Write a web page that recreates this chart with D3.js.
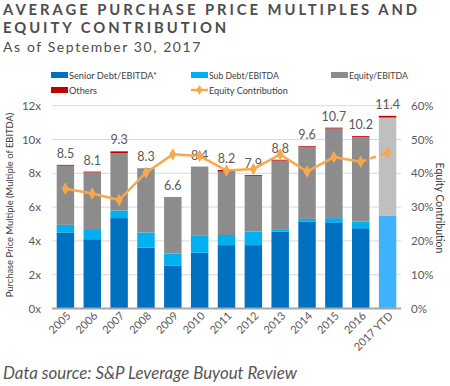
<!DOCTYPE html>
<html><head><meta charset="utf-8">
<script src="https://cdn.jsdelivr.net/npm/d3@7"></script>
<style>body{margin:0;background:#fff}svg{display:block}</style>
</head><body>
<svg id="c" width="450" height="386"></svg>
<script>
const categories = ["2005","2006","2007","2008","2009","2010","2011","2012","2013","2014","2015","2016","2017 YTD"];
const seniorDebt = [4.5,4.1,5.35,3.6,2.55,3.3,3.75,3.75,4.55,5.15,5.1,4.75,5.5];
const subDebt    = [0.45,0.6,0.45,0.9,0.7,1.0,0.6,0.8,0.1,0.15,0.25,0.4,0.0];
const equity     = [3.5,3.35,3.4,3.8,3.35,4.1,3.75,3.3,4.1,4.25,5.3,5.0,5.8];
const others     = [0.05,0.05,0.1,0.0,0.0,0.0,0.1,0.05,0.05,0.05,0.05,0.05,0.1];
const totalLabels = ["8.5","8.1","9.3","8.3","6.6","8.4","8.2","7.9","8.8","9.6","10.7","10.2","11.4"];
const equityContribution = [35.4,34.0,32.1,40.2,45.6,45.1,40.8,41.3,45.6,40.5,44.8,43.4,46.2];
const leftTicks = [0,2,4,6,8,10,12];
const rightTicks = [0,10,20,30,40,50,60];

const svg = d3.select("#c");
const ml = 52, mr = 401, plotTop = 105.7, bot = 308.5;
const x = d3.scaleBand().domain(categories).range([ml, mr]).paddingInner(0.35).paddingOuter(0.175);
const y = d3.scaleLinear().domain([0,12]).range([bot, plotTop]);
const y2 = d3.scaleLinear().domain([0,60]).range([bot, plotTop]);
const txt = "#595959";
const F = "Lato, 'Open Sans', sans-serif";

function fit(sel, w){
  const n = sel.node(); const len = n.getComputedTextLength();
  const fs = parseFloat(sel.attr("font-size"));
  if(len>0) sel.attr("font-size", fs*w/len);
  return sel;
}
function spread(sel, w){
  const n = sel.node(); const len = n.getComputedTextLength();
  const ls = parseFloat(sel.attr("letter-spacing")) || 0;
  const k = sel.text().length;
  sel.attr("letter-spacing", ls + (w - len)/k);
  return sel;
}

// Title
const t1 = spread(svg.append("text").attr("x",3).attr("y",14.5).attr("font-family",F).attr("font-weight","bold")
  .attr("font-size",14.8).attr("letter-spacing",2).attr("fill","#4d4d4d").text("AVERAGE PURCHASE PRICE MULTIPLES AND"), 417);
svg.append("text").attr("x",3).attr("y",33.3).attr("font-family",F).attr("font-weight","bold")
  .attr("font-size",14.8).attr("letter-spacing",t1.attr("letter-spacing")).attr("fill","#4d4d4d").text("EQUITY CONTRIBUTION");
spread(svg.append("text").attr("x",3).attr("y",51.7).attr("font-family",F)
  .attr("font-size",14).attr("letter-spacing",1).attr("fill","#4d4d4d").text("As of September 30, 2017"), 199);

// Gridlines
svg.append("g").selectAll("line").data(leftTicks.filter(d=>d>0)).join("line")
  .attr("x1",ml).attr("x2",mr).attr("y1",d=>y(d)).attr("y2",d=>y(d))
  .attr("stroke","#d9d9d9").attr("stroke-width",1);

// Stacked bars
const keys = ["senior","sub","equity","others"];
const rows = categories.map((c,i)=>({cat:c, senior:seniorDebt[i], sub:subDebt[i], equity:equity[i], others:others[i]}));
const stack = d3.stack().keys(keys)(rows);
const colors = {senior:"#0070c0", sub:"#00b0f0", equity:"#8c8c8c", others:"#c00000"};
const ytdColors = {senior:"#3fb3fb", sub:"#66c6ff", equity:"#bfbfbf", others:"#c00000"};
stack.forEach(layer=>{
  svg.append("g").selectAll("rect").data(layer).join("rect")
    .attr("x",d=>x(d.data.cat)).attr("width",x.bandwidth())
    .attr("y",d=>y(d[1])).attr("height",d=>Math.max(0,y(d[0])-y(d[1])))
    .attr("fill",d=>d.data.cat==="2017 YTD"?ytdColors[layer.key]:colors[layer.key]);
});

// Total labels
svg.append("g").selectAll("text").data(rows).join("text")
  .attr("x",d=>x(d.cat)+x.bandwidth()/2)
  .attr("y",(d,i)=>y(d.senior+d.sub+d.equity+d.others)-7)
  .attr("text-anchor","middle").attr("font-family",F).attr("font-size",12.5)
  .attr("fill",txt).text((d,i)=>totalLabels[i]);

// Axis baseline
svg.append("line").attr("x1",ml).attr("x2",mr).attr("y1",bot).attr("y2",bot).attr("stroke","#a6a6a6").attr("stroke-width",2);

// Left axis
const la = svg.append("g").attr("transform",`translate(${ml},0)`)
  .call(d3.axisLeft(y).tickValues(leftTicks).tickFormat(d=>d+"x").tickSize(0).tickPadding(11));
la.select(".domain").remove();
la.selectAll("text").attr("font-family",F).attr("font-size",11.5).attr("fill",txt);

// Right axis
const ra = svg.append("g").attr("transform",`translate(${mr},0)`)
  .call(d3.axisRight(y2).tickValues(rightTicks).tickFormat(d=>d+"%").tickSize(0).tickPadding(10));
ra.select(".domain").remove();
ra.selectAll("text").attr("font-family",F).attr("font-size",11.5).attr("fill",txt);

// Bottom axis
const ba = svg.append("g").attr("transform",`translate(0,${bot})`)
  .call(d3.axisBottom(x).tickSize(0).tickPadding(0));
ba.select(".domain").remove();
ba.selectAll("text").attr("font-family",F).attr("font-size",11).attr("fill",txt)
  .attr("text-anchor","end").attr("dy",0)
  .attr("transform","translate(6,8) rotate(-45)");

// Equity contribution line
const pts = categories.map((c,i)=>[x(c)+x.bandwidth()/2, y2(equityContribution[i])]);
const lineGen = d3.line();
svg.append("path").attr("d",lineGen(pts.slice(0,12))).attr("fill","none").attr("stroke","#f8a84c").attr("stroke-width",2.5);
svg.append("path").attr("d",lineGen(pts.slice(11))).attr("fill","none").attr("stroke","#f8a84c").attr("stroke-width",2.5).attr("stroke-dasharray","6,4");
svg.append("g").selectAll("path").data(pts).join("path")
  .attr("d",d3.symbol().type(d3.symbolDiamond).size(45)).attr("transform",d=>`translate(${d[0]},${d[1]})`).attr("fill","#f8a84c");

// Axis titles
fit(svg.append("text").attr("transform","translate(13,205) rotate(-90)").attr("text-anchor","middle")
  .attr("font-family",F).attr("font-size",12).attr("fill","#404040")
  .text("Purchase Price Multiple (Multiple of EBITDA)"), 185);
fit(svg.append("text").attr("transform","translate(436,208) rotate(90)").attr("text-anchor","middle")
  .attr("font-family",F).attr("font-size",12).attr("fill","#404040")
  .text("Equity Contribution"), 91);

// Legend
const legend = [
  {label:"Senior Debt/EBITDA*", color:colors.senior, x:51, y:75, type:"rect", w:88},
  {label:"Sub Debt/EBITDA", color:colors.sub, x:191, y:75, type:"rect", w:70},
  {label:"Equity/EBITDA", color:colors.equity, x:331, y:75, type:"rect", w:59},
  {label:"Others", color:colors.others, x:51, y:90, type:"rect", w:28},
  {label:"Equity Contribution", color:"#f8a84c", x:191, y:90, type:"line", w:79}
];
const lg = svg.append("g");
legend.forEach(l=>{
  if(l.type==="rect"){
    lg.append("rect").attr("x",l.x).attr("y",l.y-3).attr("width",17).attr("height",6).attr("fill",l.color);
  } else {
    lg.append("line").attr("x1",l.x).attr("x2",l.x+17).attr("y1",l.y).attr("y2",l.y).attr("stroke",l.color).attr("stroke-width",2.5);
    lg.append("path").attr("d",d3.symbol().type(d3.symbolDiamond).size(30)).attr("transform",`translate(${l.x+8.5},${l.y})`).attr("fill",l.color);
  }
  fit(lg.append("text").attr("x",l.x+18).attr("y",l.y+3.5).attr("font-family",F).attr("font-size",10)
    .attr("fill","#404040").text(l.label), l.w);
});

// Source
fit(svg.append("text").attr("x",3).attr("y",379).attr("font-family",F).attr("font-style","italic")
  .attr("font-size",16).attr("fill","#555").text("Data source: S&P Leverage Buyout Review"), 294);
</script>
</body></html>
